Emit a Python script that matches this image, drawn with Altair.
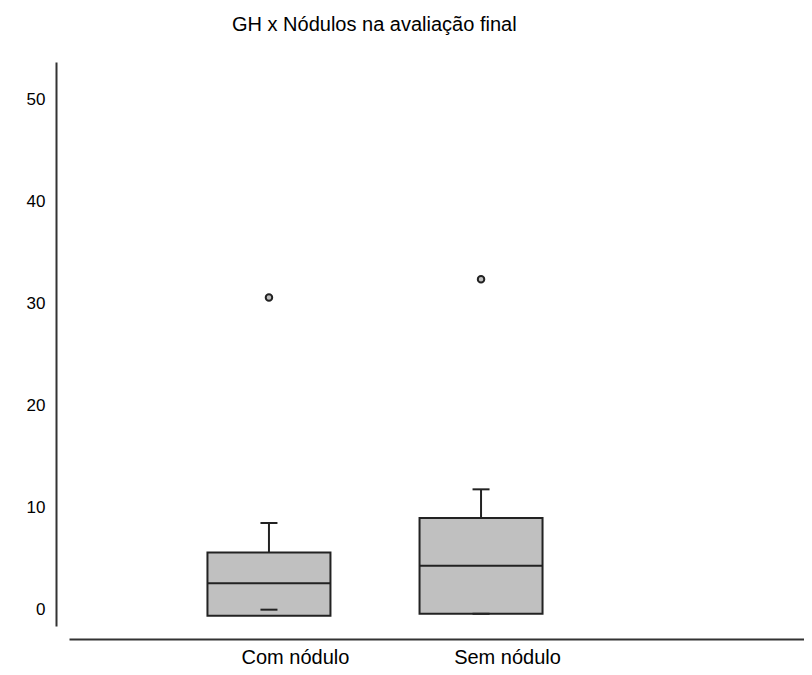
import altair as alt
import pandas as pd

groups = ["Com nódulo", "Sem nódulo"]
q1 = [-0.6, -0.4]
median = [2.6, 4.3]
q3 = [5.6, 9.0]
lower_whisker = [0.0, -0.4]
upper_whisker = [8.5, 11.8]
outlier_groups = ["Com nódulo", "Sem nódulo"]
outlier_values = [30.6, 32.4]
y_ticks = [0, 10, 20, 30, 40, 50]

pos = [i + 1 for i in range(len(groups))]
boxes = pd.DataFrame({
    "group": groups, "pos": pos, "q1": q1, "median": median, "q3": q3,
    "low": lower_whisker, "high": upper_whisker,
})
outs = pd.DataFrame({
    "group": outlier_groups,
    "pos": [groups.index(g) + 1 for g in outlier_groups],
    "value": outlier_values,
})

FONT = "Liberation Sans"
DARK = "#222222"
FILL = "#c0c0c0"

label_expr = " : ".join(
    [f"datum.value == {p} ? '{g}'" for p, g in zip(pos[:-1], groups[:-1])] + [f"'{groups[-1]}'"]
)

x_enc = alt.X(
    "pos:Q",
    title=None,
    scale=alt.Scale(domain=[0.0807, 3.4993], nice=False, zero=False),
    axis=alt.Axis(
        values=pos, labelExpr=label_expr,
        ticks=False, grid=False, domainColor="#333333", domainWidth=2,
        offset=13, labelOffset=26, labelPadding=24, labelBaseline="alphabetic",
        labelFont=FONT, labelFontSize=20, labelColor="#000000", labelAngle=0,
        labelFlush=False, labelOverlap=False,
    ),
)
y_scale = alt.Scale(domain=[-1.6, 53.7], nice=False, zero=False)
y_axis = alt.Axis(
    values=y_ticks, ticks=False, grid=False, domainColor="#333333",
    domainWidth=2, offset=13, labelPadding=11, labelFont=FONT,
    labelFontSize=17, labelColor="#000000",
)

base = alt.Chart(boxes)

whisker_hi = base.mark_rule(color=DARK, strokeWidth=2).encode(
    x=x_enc, y=alt.Y("q3:Q", scale=y_scale, axis=y_axis, title=None), y2="high:Q"
)
whisker_lo = base.mark_rule(color=DARK, strokeWidth=2).encode(
    x=x_enc, y=alt.Y("low:Q", scale=y_scale), y2="q1:Q"
)
box = base.mark_bar(width=123, fill=FILL, stroke=DARK, strokeWidth=2).encode(
    x=x_enc, y=alt.Y("q1:Q", scale=y_scale), y2="q3:Q"
)
med = base.mark_tick(size=123, thickness=2, color=DARK, opacity=1, orient="horizontal").encode(
    x=x_enc, y=alt.Y("median:Q", scale=y_scale)
)
cap_hi = base.mark_tick(size=17, thickness=2, color=DARK, opacity=1, orient="horizontal").encode(
    x=x_enc, y=alt.Y("high:Q", scale=y_scale)
)
cap_lo = base.mark_tick(size=17, thickness=2, color=DARK, opacity=1, orient="horizontal").encode(
    x=x_enc, y=alt.Y("low:Q", scale=y_scale)
)
points = alt.Chart(outs).mark_point(
    shape="circle", filled=True, fill=FILL, stroke=DARK, strokeWidth=2,
    size=42, opacity=1,
).encode(x=x_enc, y=alt.Y("value:Q", scale=y_scale))

chart = alt.layer(whisker_hi, whisker_lo, box, med, cap_hi, cap_lo, points).properties(
    width=735,
    height=564,
    autosize=alt.AutoSizeParams(type="none"),
    padding={"left": 61, "top": 54, "right": 0, "bottom": 41},
    title=alt.TitleParams(
        "GH x Nódulos na avaliação final", anchor="start", frame="group",
        dx=163, offset=7, baseline="bottom", font=FONT, fontSize=20,
        fontWeight="normal", color="#000000",
    ),
).configure_view(stroke=None)

chart.save("out.html", embed_options={"renderer": "svg", "actions": False})
